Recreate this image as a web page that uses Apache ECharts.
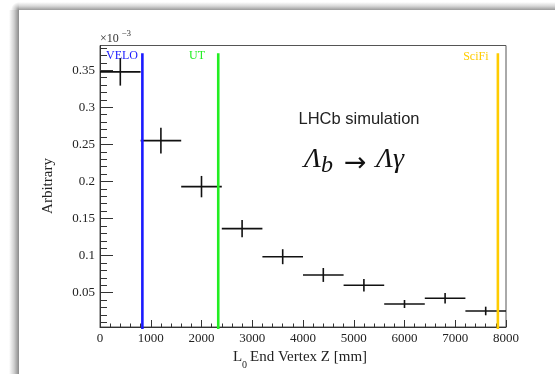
<!DOCTYPE html>
<html><head><meta charset="utf-8">
<script src="https://cdn.jsdelivr.net/npm/echarts@6/dist/echarts.min.js"></script>
<style>html,body{margin:0;padding:0;background:#fff}#c{width:555px;height:374px}</style>
</head><body><div id="c"></div>
<script>
// Data (values in units of 10^-3)
const binEdges = [0, 800, 1600, 2400, 3200, 4000, 4800, 5600, 6400, 7200, 8000];
const values = [0.3477, 0.255, 0.193, 0.1363, 0.0985, 0.0739, 0.060, 0.0347, 0.0424, 0.0253];
const errors = [0.0185, 0.0173, 0.0144, 0.0117, 0.0101, 0.0094, 0.0083, 0.0054, 0.0070, 0.0058];
const detectorNames = ['VELO', 'UT', 'SciFi'];
const detectorZ = [835, 2330, 7840];
const xTicks = [0, 1000, 2000, 3000, 4000, 5000, 6000, 7000, 8000];
const yTicks = [0.05, 0.1, 0.15, 0.2, 0.25, 0.3, 0.35];
const yMinorTicks = [0.01,0.02,0.03,0.04,0.06,0.07,0.08,0.09,0.11,0.12,0.13,0.14,0.16,0.17,0.18,0.19,0.21,0.22,0.23,0.24,0.26,0.27,0.28,0.29,0.31,0.32,0.33,0.34,0.36,0.37,0.38];

const detectorColors = ['#1a1aff', '#22ee22', '#ffcc00'];
const Y_MIN = 0.0037, Y_MAX = 0.3833, LINE_TOP = 0.373;
const serif = '"Liberation Serif", "DejaVu Serif", serif';

const histData = values.map((v, i) => [binEdges[i], binEdges[i + 1], v, errors[i]]);
const detData = detectorZ.map((z, i) => [z, i]);

const chart = echarts.init(document.getElementById('c'));
chart.setOption({
  animation: false,
  backgroundColor: '#fff',
  grid: { left: 100, right: 49, top: 45.5, bottom: 47, show: true, borderColor: '#555', borderWidth: 1, backgroundColor: 'transparent' },
  xAxis: {
    type: 'value', min: 0, max: 8000, interval: 1000,
    axisLine: { show: true, onZero: false, lineStyle: { color: '#333', width: 1 } },
    axisTick: { show: true, inside: true, length: 7, lineStyle: { color: '#333', width: 1 } },
    minorTick: { show: true, splitNumber: 5, length: 3.5, lineStyle: { color: '#333', width: 1 } },
    splitLine: { show: false },
    axisLabel: { show: true, margin: 5, fontFamily: serif, fontSize: 13, color: '#222',
      customValues: xTicks, formatter: v => String(Math.round(v)) }
  },
  yAxis: [{
    type: 'value', min: Y_MIN, max: Y_MAX,
    axisLine: { show: true, onZero: false, lineStyle: { color: '#333', width: 1 } },
    axisTick: { show: true, inside: true, length: 13, customValues: yTicks, lineStyle: { color: '#333', width: 1 } },
    splitLine: { show: false },
    axisLabel: { show: true, margin: 5, fontFamily: serif, fontSize: 13, color: '#222',
      customValues: yTicks, formatter: v => String(+v.toFixed(2)) }
  }, {
    type: 'value', min: Y_MIN, max: Y_MAX, position: 'left',
    axisLine: { show: false },
    axisTick: { show: true, inside: true, length: 7, customValues: yMinorTicks, lineStyle: { color: '#333', width: 1 } },
    axisLabel: { show: false },
    splitLine: { show: false }
  }],
  series: [{
    type: 'custom',
    data: histData,
    clip: false,
    renderItem: (params, api) => {
      const lo = api.value(0), hi = api.value(1), v = api.value(2), e = api.value(3);
      const mid = (lo + hi) / 2;
      const a = api.coord([lo, v]), b = api.coord([hi, v]);
      const c = api.coord([mid, v - e]), d = api.coord([mid, v + e]);
      const st = { stroke: '#111', lineWidth: 1.6 };
      return { type: 'group', children: [
        { type: 'line', shape: { x1: a[0], y1: a[1], x2: b[0], y2: b[1] }, style: st },
        { type: 'line', shape: { x1: c[0], y1: c[1], x2: d[0], y2: d[1] }, style: st }
      ]};
    }
  }, {
    type: 'custom',
    data: detData,
    clip: false,
    renderItem: (params, api) => {
      const z = api.value(0), idx = api.value(1);
      const p1 = api.coord([z, Y_MIN]), p2 = api.coord([z, LINE_TOP]);
      return { type: 'line', shape: { x1: p1[0], y1: p1[1] + 2, x2: p2[0], y2: p2[1] },
        style: { stroke: detectorColors[idx], lineWidth: 2.6 } };
    }
  }],
  graphic: [
    // drop shadow around the picture
    { type: 'rect', shape: { x: 9, y: 10, width: 10, height: 364 },
      style: { fill: new echarts.graphic.LinearGradient(0, 0, 1, 0, [{ offset: 0, color: '#ffffff' }, { offset: 0.5, color: '#d0d0d0' }, { offset: 1, color: '#8a8a8a' }]) } },
    { type: 'rect', shape: { x: 19, y: 2, width: 536, height: 8 },
      style: { fill: new echarts.graphic.LinearGradient(0, 0, 0, 1, [{ offset: 0, color: '#ffffff' }, { offset: 0.5, color: '#d8d8d8' }, { offset: 1, color: '#9a9a9a' }]) } },
    { type: 'rect', shape: { x: 9, y: 2, width: 10, height: 8 },
      style: { fill: new echarts.graphic.RadialGradient(1, 1, 1, [{ offset: 0, color: '#8a8a8a' }, { offset: 0.5, color: '#d0d0d0' }, { offset: 1, color: '#ffffff' }]) } },
    // exponent
    { type: 'text', x: 100, y: 39, style: { text: '×10', font: '12px ' + serif, fill: '#333', textVerticalAlign: 'middle' } },
    { type: 'text', x: 121.5, y: 34, style: { text: '−3', font: '9px ' + serif, fill: '#333', textVerticalAlign: 'middle' } },
    // detector labels
    { type: 'text', x: 138, y: 55.5, style: { text: detectorNames[0], font: '12px ' + serif, fill: detectorColors[0], textAlign: 'right', textVerticalAlign: 'middle' } },
    { type: 'text', x: 205, y: 55.5, style: { text: detectorNames[1], font: '12px ' + serif, fill: detectorColors[1], textAlign: 'right', textVerticalAlign: 'middle' } },
    { type: 'text', x: 488.5, y: 57, style: { text: detectorNames[2], font: '12px ' + serif, fill: detectorColors[2], textAlign: 'right', textVerticalAlign: 'middle' } },
    // annotations
    { type: 'text', x: 359, y: 119, style: { text: 'LHCb simulation', font: '16.5px "Liberation Sans", Arial, sans-serif', fill: '#222', textAlign: 'center', textVerticalAlign: 'middle' } },
    { type: 'text', x: 304, y: 174, style: { text: 'Λ', font: 'italic 28px ' + serif, fill: '#111', textVerticalAlign: 'bottom' } },
    { type: 'text', x: 321, y: 178, style: { text: 'b', font: 'italic 24px ' + serif, fill: '#111', textVerticalAlign: 'bottom' } },
    { type: 'text', x: 344, y: 163.5, style: { text: '→', font: '27px "DejaVu Sans", sans-serif', fill: '#111', textVerticalAlign: 'middle' } },
    { type: 'text', x: 376, y: 174, style: { text: 'Λγ', font: 'italic 28px ' + serif, fill: '#111', textVerticalAlign: 'bottom' } },
    // axis titles
    { type: 'text', x: 48, y: 186, rotation: Math.PI / 2, style: { text: 'Arbitrary', font: '15px ' + serif, fill: '#222', textAlign: 'center', textVerticalAlign: 'middle' } },
    { type: 'text', x: 233, y: 365, style: { text: 'L', font: '15px ' + serif, fill: '#222', textVerticalAlign: 'bottom' } },
    { type: 'text', x: 242, y: 370, style: { text: '0', font: '10px ' + serif, fill: '#222', textVerticalAlign: 'bottom' } },
    { type: 'text', x: 250, y: 365, style: { text: 'End Vertex Z [mm]', font: '15px ' + serif, fill: '#222', textVerticalAlign: 'bottom' } }
  ]
});
</script></body></html>
